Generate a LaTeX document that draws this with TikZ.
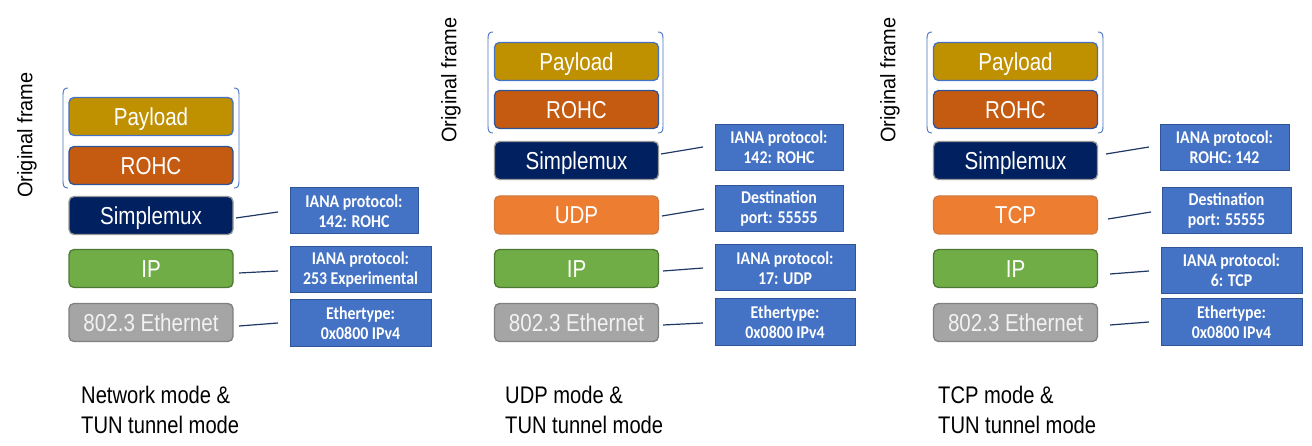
\documentclass[tikz,border=0pt]{standalone}
\usepackage{fontspec}
\setmainfont{Liberation Sans}
\newfontfamily\boxfont{Liberation Sans}[FakeStretch=0.84]
\newfontfamily\labfont{Carlito}[FakeStretch=0.88]
\newfontfamily\plainfont{Liberation Sans}[FakeStretch=0.95]
\definecolor{cpay}{HTML}{BF9000}
\definecolor{crohc}{HTML}{C55A11}
\definecolor{csmx}{HTML}{002060}
\definecolor{corg}{HTML}{ED7D31}
\definecolor{cgrn}{HTML}{70AD47}
\definecolor{cgry}{HTML}{A5A5A5}
\definecolor{cinfo}{HTML}{4472C4}
\definecolor{cinfob}{HTML}{2F5597}
\definecolor{cline}{HTML}{203864}
\newcommand\obracket[4]{%
  \draw[brk] ({#1+5},#3) .. controls ({#1+1},#3) and (#1,{#3+2}) .. (#1,{#3+7}) -- (#1,{#4-7}) .. controls (#1,{#4-2}) and ({#1+1},#4) .. ({#1+5},#4);
  \draw[brk] ({#2-5},#3) .. controls ({#2-1},#3) and (#2,{#3+2}) .. (#2,{#3+7}) -- (#2,{#4-7}) .. controls (#2,{#4-2}) and ({#2-1},#4) .. ({#2-5},#4);}
\begin{document}
\begin{tikzpicture}[x=1pt,y=-1pt,
  layer/.style={rounded corners=5pt, minimum width=164pt, minimum height=38pt, line width=1.3pt, text=white, inner sep=0pt, text height=17.2pt, text depth=0pt, font={\boxfont\fontsize{24.5}{28}\selectfont}},
  pay/.style={layer, fill=cpay, draw=cinfo},
  rohc/.style={layer, fill=crohc, draw=cinfob},
  smx/.style={layer, fill=csmx, draw=gray!80},
  org/.style={layer, fill=corg, draw=crohc!80},
  grn/.style={layer, fill=cgrn, draw=cgrn!70!black},
  gry/.style={layer, fill=cgry, draw=gray, text=white!95!black},
  info/.style={fill=cinfo, draw=cinfob, line width=1pt, text=white, align=center, inner sep=0pt, minimum height=46pt, font={\labfont\bfseries\fontsize{18}{20}\selectfont}},
  conn/.style={draw=cline, line width=1.2pt},
  brk/.style={draw=cinfo, line width=0.9pt},
  ttl/.style={rotate=90, inner sep=0pt, font={\plainfont\fontsize{21}{24}\selectfont}},
  mode/.style={anchor=north west, align=left, inner sep=0pt, font={\boxfont\fontsize{24}{30}\selectfont}}
]
\useasboundingbox (0,0) rectangle (1312,446);

% ---------- panel 1 ----------
\node[ttl] (t1) at (27,135) {Original frame};
\obracket{63}{239}{88}{188}
\node[pay]  (p1pay) at (151,116.5) {Payload};
\node[rohc] (p1rohc) at (151,165.5) {ROHC};
\node[smx]  (p1smx) at (151,215.5) {Simplemux};
\node[grn]  (p1ip) at (151,268.5) {IP};
\node[gry]  (p1eth) at (151,322.5) {802.3 Ethernet};
\node[info, minimum width=128pt] (p1l1) at (354,211) {IANA protocol:\\142: ROHC};
\node[info, minimum width=141pt] (p1l2) at (360.5,270) {IANA protocol:\\253 Experimental};
\node[info, minimum width=141pt] (p1l3) at (360.5,323) {Ethertype:\\0x0800 IPv4};
\coordinate (p1a) at (236,218); \coordinate (p1b) at (278,212);
\coordinate (p1c) at (239,273); \coordinate (p1d) at (278,271);
\coordinate (p1e) at (239,326); \coordinate (p1f) at (278,323);
\draw[conn] (p1a) -- (p1b);
\draw[conn] (p1c) -- (p1d);
\draw[conn] (p1e) -- (p1f);
\node[mode] (m1) at (81,386) {Network mode \&\\TUN tunnel mode};

% ---------- panel 2 ----------
\node[ttl] (t2) at (451,80) {Original frame};
\obracket{488}{663}{32}{133}
\node[pay]  (p2pay) at (576.5,61.5) {Payload};
\node[rohc] (p2rohc) at (576.5,109.5) {ROHC};
\node[smx]  (p2smx) at (576.5,160.5) {Simplemux};
\node[org]  (p2udp) at (576.5,215) {UDP};
\node[grn]  (p2ip) at (576.5,268.5) {IP};
\node[gry]  (p2eth) at (576.5,322.5) {802.3 Ethernet};
\node[info, minimum width=128pt] (p2l1) at (779,147.5) {IANA protocol:\\142: ROHC};
\node[info, minimum width=128pt] (p2l2) at (779,209) {Destination\\port: 55555};
\node[info, minimum width=140pt] (p2l3) at (785,268) {IANA protocol:\\17: UDP};
\node[info, minimum width=140pt] (p2l4) at (785,322) {Ethertype:\\0x0800 IPv4};
\coordinate (p2a) at (661,154); \coordinate (p2b) at (703,147);
\coordinate (p2c) at (662,216); \coordinate (p2d) at (704,209);
\coordinate (p2e) at (663,271); \coordinate (p2f) at (703,268);
\coordinate (p2g) at (663,325); \coordinate (p2h) at (703,323);
\draw[conn] (p2a) -- (p2b);
\draw[conn] (p2c) -- (p2d);
\draw[conn] (p2e) -- (p2f);
\draw[conn] (p2g) -- (p2h);
\node[mode] (m2) at (505,386) {UDP mode \&\\TUN tunnel mode};

% ---------- panel 3 ----------
\node[ttl] (t3) at (890,80) {Original frame};
\obracket{927}{1103}{32}{133}
\node[pay]  (p3pay) at (1015.5,61.5) {Payload};
\node[rohc] (p3rohc) at (1015.5,109.5) {ROHC};
\node[smx]  (p3smx) at (1015.5,160.5) {Simplemux};
\node[org]  (p3tcp) at (1015.5,215) {TCP};
\node[grn]  (p3ip) at (1015.5,268.5) {IP};
\node[gry]  (p3eth) at (1015.5,322.5) {802.3 Ethernet};
\node[info, minimum width=129pt] (p3l1) at (1224.5,147.5) {IANA protocol:\\ROHC: 142};
\node[info, minimum width=129pt] (p3l2) at (1226.5,211) {Destination\\port: 55555};
\node[info, minimum width=141pt] (p3l3) at (1231.5,270.5) {IANA protocol:\\6: TCP};
\node[info, minimum width=141pt] (p3l4) at (1231.5,322) {Ethertype:\\0x0800 IPv4};
\coordinate (p3a) at (1106,154); \coordinate (p3b) at (1149,147);
\coordinate (p3c) at (1108,219); \coordinate (p3d) at (1151,212);
\coordinate (p3e) at (1110,274); \coordinate (p3f) at (1149,271);
\coordinate (p3g) at (1110,325); \coordinate (p3h) at (1149,322);
\draw[conn] (p3a) -- (p3b);
\draw[conn] (p3c) -- (p3d);
\draw[conn] (p3e) -- (p3f);
\draw[conn] (p3g) -- (p3h);
\node[mode] (m3) at (938,386) {TCP mode \&\\TUN tunnel mode};
\end{tikzpicture}
\end{document}
